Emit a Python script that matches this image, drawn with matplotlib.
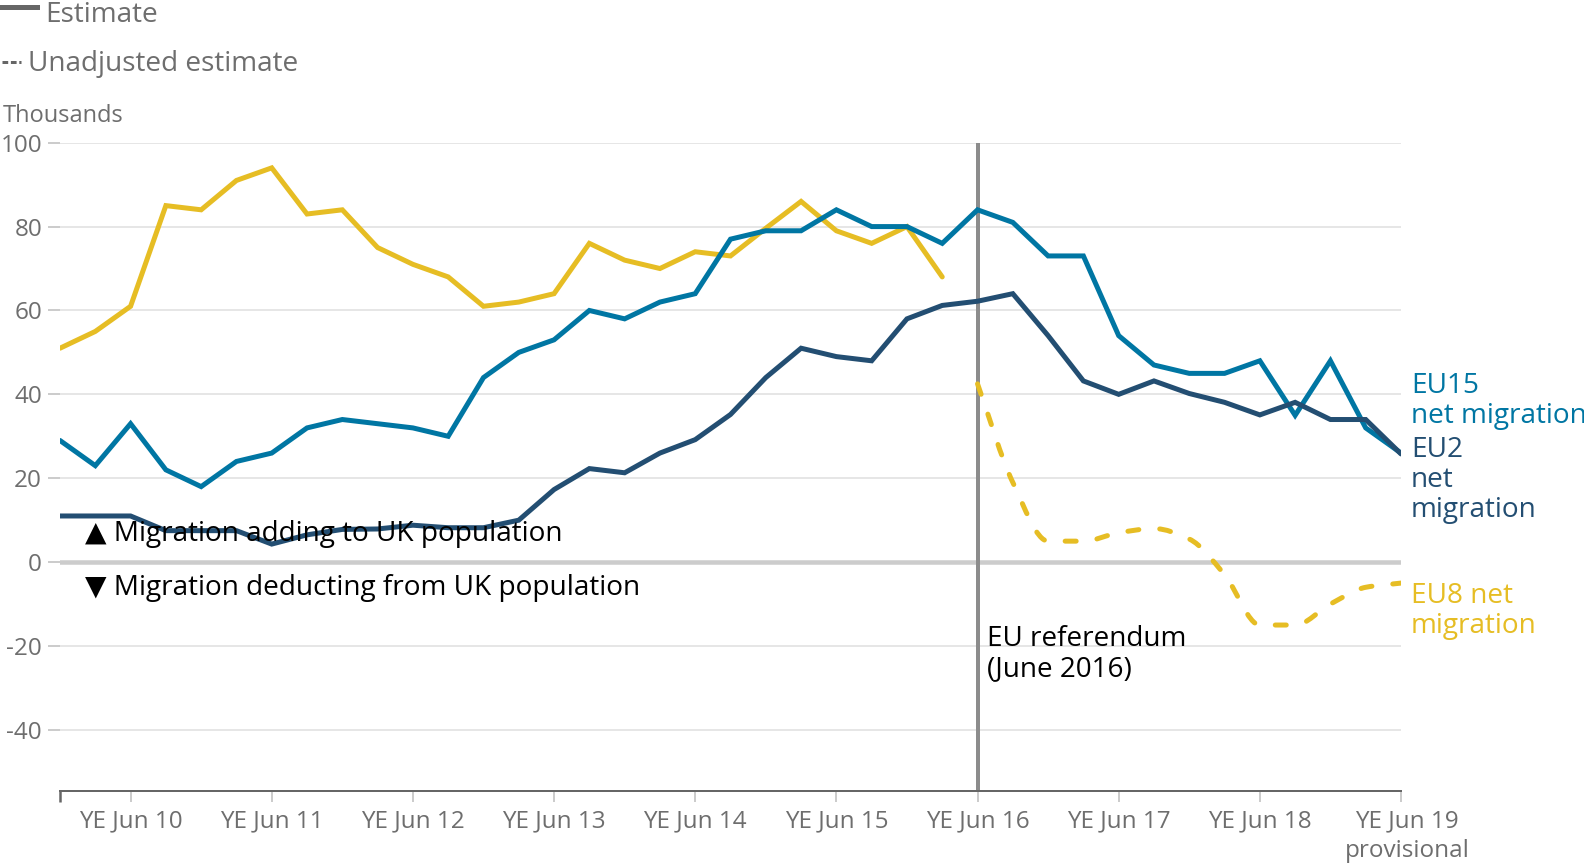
import numpy as np
import matplotlib
matplotlib.use("Agg")
import matplotlib.pyplot as plt
import matplotlib.transforms as mtransforms
from matplotlib.path import Path
from matplotlib.patches import PathPatch
from matplotlib.lines import Line2D

# ---------------- data (thousands) ----------------
periods = [
    "YE Dec 09", "YE Mar 10", "YE Jun 10", "YE Sep 10", "YE Dec 10",
    "YE Mar 11", "YE Jun 11", "YE Sep 11", "YE Dec 11", "YE Mar 12",
    "YE Jun 12", "YE Sep 12", "YE Dec 12", "YE Mar 13", "YE Jun 13",
    "YE Sep 13", "YE Dec 13", "YE Mar 14", "YE Jun 14", "YE Sep 14",
    "YE Dec 14", "YE Mar 15", "YE Jun 15", "YE Sep 15", "YE Dec 15",
    "YE Mar 16", "YE Jun 16", "YE Sep 16", "YE Dec 16", "YE Mar 17",
    "YE Jun 17", "YE Sep 17", "YE Dec 17", "YE Mar 18", "YE Jun 18",
    "YE Sep 18", "YE Dec 18", "YE Mar 19", "YE Jun 19",
]

eu15 = [29, 23, 33, 22, 18, 24, 26, 32, 34, 33,
        32, 30, 44, 50, 53, 60, 58, 62, 64, 77,
        79, 79, 84, 80, 80, 76, 84, 81, 73, 73,
        54, 47, 45, 45, 48, 35, 48, 32, 26]

eu2 = [11, 11, 11, 7.5, 7.5, 7.5, 4.3, 6.5, 7.8, 7.9,
       8.8, 8.2, 8.2, 10, 17.3, 22.3, 21.3, 26, 29.2, 35.2,
       44, 51, 49, 48, 58, 61.2, 62.2, 64, 54, 43.2,
       40, 43.2, 40.2, 38.1, 35.1, 38.1, 34, 34, 25.8]

# EU8: adjusted estimate up to YE Mar 16, unadjusted estimate from YE Jun 16
eu8_estimate = [51, 55, 61, 85, 84, 91, 94, 83, 84, 75,
                71, 68, 61, 62, 64, 76, 72, 70, 74, 73,
                79.6, 86, 79, 76, 80, 68]
eu8_unadjusted = [42.5, 19, 5, 5, 7, 8, 5.5, -3, -15, -15, -10, -6, -5]

tick_periods = ["YE Jun 10", "YE Jun 11", "YE Jun 12", "YE Jun 13", "YE Jun 14",
                "YE Jun 15", "YE Jun 16", "YE Jun 17", "YE Jun 18", "YE Jun 19"]
tick_labels = ["YE Jun 10", "YE Jun 11", "YE Jun 12", "YE Jun 13", "YE Jun 14",
               "YE Jun 15", "YE Jun 16", "YE Jun 17", "YE Jun 18",
               "YE Jun 19\nprovisional"]
y_ticks = [-40, -20, 0, 20, 40, 60, 80, 100]
referendum_period = "YE Jun 16"

# ---------------- style ----------------
C_EU8 = "#E6BD24"
C_EU15 = "#0076A3"
C_EU2 = "#234E72"
GREY_TXT = "#6E6E6E"
W, H = 1584, 866
FONT = ["Open Sans", "DejaVu Sans"]
plt.rcParams["font.family"] = FONT


def pt(px):
    return px * 72.0 / 100.0


def fx(x):
    return x / W


def fy(y):
    return 1 - y / H


fig = plt.figure(figsize=(W / 100, H / 100), dpi=100)
ax_left, ax_right, ax_top, ax_bot = 60, 1401, 142.7, 790.7
ax = fig.add_axes([fx(ax_left), fy(ax_bot), (ax_right - ax_left) / W,
                   (ax_bot - ax_top) / H])

x_all = np.arange(len(periods))
ref_idx = periods.index(referendum_period)
x_est = x_all[:len(eu8_estimate)]
x_unadj = x_all[ref_idx:ref_idx + len(eu8_unadjusted)]

ax.set_xlim(0, len(periods) - 1)
ax.set_ylim(-54.5, 100)

# grid
for v in y_ticks:
    if v == 0:
        ax.axhline(v, color="#CCCCCC", lw=pt(4.5), zorder=1)
    else:
        ax.axhline(v, color="#E6E6E6", lw=pt(2), zorder=0)

# referendum line
ax.axvline(ref_idx, color="#8C8C8C", lw=pt(4), zorder=1.5)

lw = pt(5)
# EU8 estimate (solid)
ax.plot(x_est, eu8_estimate, color=C_EU8, lw=lw, zorder=2,
        solid_capstyle="round", solid_joinstyle="miter")


# EU8 unadjusted (dashed, smoothed curve through the points)
def monotone_bezier(xs, ys):
    xs = np.asarray(xs, float)
    ys = np.asarray(ys, float)
    d = np.diff(ys) / np.diff(xs)
    m = np.zeros(len(xs))
    m[0], m[-1] = d[0], d[-1]
    for k in range(1, len(xs) - 1):
        if d[k - 1] * d[k] <= 0:
            m[k] = 0.0
        else:
            m[k] = 2.0 / (1.0 / d[k - 1] + 1.0 / d[k])
    verts = [(xs[0], ys[0])]
    codes = [Path.MOVETO]
    for k in range(len(xs) - 1):
        h = xs[k + 1] - xs[k]
        verts += [(xs[k] + h / 3, ys[k] + m[k] * h / 3),
                  (xs[k + 1] - h / 3, ys[k + 1] - m[k + 1] * h / 3),
                  (xs[k + 1], ys[k + 1])]
        codes += [Path.CURVE4] * 3
    return Path(verts, codes)


patch = PathPatch(monotone_bezier(x_unadj, eu8_unadjusted), facecolor="none",
                  edgecolor=C_EU8, lw=lw, zorder=2)
patch.set_linestyle((0, (2.2, 4.2)))
patch.set_capstyle("round")
ax.add_patch(patch)

ax.plot(x_all, eu15, color=C_EU15, lw=lw, zorder=3,
        solid_capstyle="round", solid_joinstyle="miter")
ax.plot(x_all, eu2, color=C_EU2, lw=lw, zorder=4,
        solid_capstyle="round", solid_joinstyle="miter")

# axes styling
for s in ["top", "right", "left"]:
    ax.spines[s].set_visible(False)
ax.spines["bottom"].set_color("#666666")
ax.spines["bottom"].set_linewidth(pt(2))
ax.set_yticks(y_ticks)
ax.set_yticklabels([str(v) for v in y_ticks])
ax.tick_params(axis="y", length=pt(12), width=pt(2), color="#CCCCCC",
               pad=pt(6), labelsize=17.5, labelcolor=GREY_TXT)
ax.set_xticks([periods.index(p) for p in tick_periods])
ax.set_xticklabels(tick_labels, linespacing=1.3)
ax.tick_params(axis="x", length=pt(11), width=pt(2), color="#CCCCCC",
               pad=pt(8), labelsize=17.5, labelcolor=GREY_TXT)
ax.set_xticks([0, len(periods) - 1], minor=True)
ax.tick_params(axis="x", which="minor", length=pt(11), width=pt(2.5),
               color="#666666")
last_lab = ax.get_xticklabels()[-1]
last_lab.set_transform(last_lab.get_transform() +
                       mtransforms.ScaledTranslation(6 / 100, 0,
                                                     fig.dpi_scale_trans))

# legend / headers
fig.add_artist(Line2D([fx(0), fx(37)], [fy(7.3), fy(7.3)], color="#666666",
                      lw=pt(5)))
fig.text(fx(45), fy(21.7), "Estimate", fontsize=20.2, color=GREY_TXT,
         va="baseline", ha="left")
fig.add_artist(Line2D([fx(2), fx(21)], [fy(61.7), fy(61.7)], color="#666666",
                      lw=pt(3), linestyle=(0, (1.9, 0.9))))
fig.text(fx(28), fy(70.7), "Unadjusted estimate", fontsize=20.2,
         color=GREY_TXT, va="baseline", ha="left")
fig.text(fx(3), fy(121.7), "Thousands", fontsize=17, color=GREY_TXT,
         va="baseline", ha="left")

# annotations
fig.text(fx(85), fy(540.7), "\u25B2 Migration adding to UK population",
         fontsize=20.2, color="black", va="baseline", ha="left", zorder=10)
fig.text(fx(85), fy(595), "\u25BC Migration deducting from UK population",
         fontsize=20.2, color="black", va="baseline", ha="left", zorder=10)
fig.text(fx(987), fy(645.7), "EU referendum", fontsize=20.1, color="black",
         va="baseline", ha="left")
fig.text(fx(987), fy(675.7), "(June 2016)", fontsize=20.1, color="black",
         va="baseline", ha="left")

# series labels
lab_x = 1411
for txt, yb, col in [("EU15", 393.3, C_EU15), ("net migration", 423.3, C_EU15),
                     ("EU2", 456.7, C_EU2), ("net", 486.7, C_EU2),
                     ("migration", 516.7, C_EU2),
                     ("EU8 net", 603.3, C_EU8), ("migration", 633.3, C_EU8)]:
    fig.text(fx(lab_x), fy(yb), txt, fontsize=20.2, color=col,
             va="baseline", ha="left")

fig.savefig("out.png", dpi=100)
